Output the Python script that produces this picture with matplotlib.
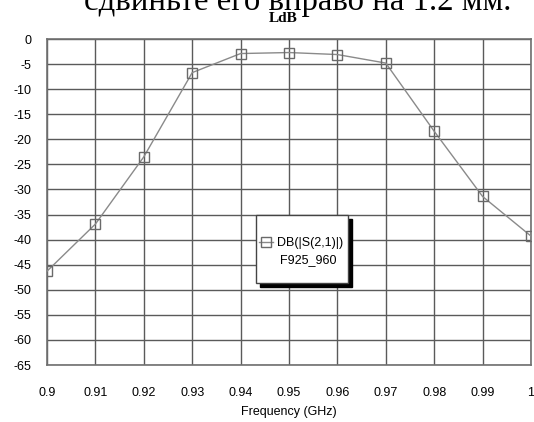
import matplotlib
matplotlib.use("Agg")
import matplotlib.pyplot as plt
from matplotlib.patches import Rectangle

plt.rcParams['axes.unicode_minus'] = False
plt.rcParams['font.family'] = ['Liberation Sans', 'DejaVu Sans']

freq = [0.90, 0.91, 0.92, 0.93, 0.94, 0.95, 0.96, 0.97, 0.98, 0.99, 1.00]
s21_db = [-46.3, -36.9, -23.5, -6.7, -2.9, -2.7, -3.1, -4.8, -18.4, -31.4, -39.3]
x_ticks = [0.90, 0.91, 0.92, 0.93, 0.94, 0.95, 0.96, 0.97, 0.98, 0.99, 1.00]
x_tick_labels = ["0.9", "0.91", "0.92", "0.93", "0.94", "0.95", "0.96", "0.97", "0.98", "0.99", "1"]
y_ticks = [0, -5, -10, -15, -20, -25, -30, -35, -40, -45, -50, -55, -60, -65]
series_label = "DB(|S(2,1)|)"
series_sub = "F925_960"
title = "LdB"
doc_text = "сдвиньте его вправо на 1.2 мм."

W, H = 534, 422
fig = plt.figure(figsize=(W / 100, H / 100), dpi=100)
L, R, T, B = 47, 531, 39, 365
ax = fig.add_axes([L / W, 1 - B / H, (R - L) / W, (B - T) / H])

grid_c = '#5a5a5a'
ax.plot(freq, s21_db, color='#8a8a8a', lw=1.0, marker='s', markersize=6.5,
        mfc='none', mec='#6a6a6a', mew=1.0, label=series_label, zorder=3)

ax.set_xlim(0.9, 1.0)
ax.set_ylim(-65, 0)
ax.set_xticks(x_ticks)
ax.set_xticklabels(x_tick_labels)
ax.set_yticks(y_ticks)
ax.set_yticklabels([str(v) for v in y_ticks])
ax.grid(True, color=grid_c, lw=1.0)
ax.set_axisbelow(True)
for s in ax.spines.values():
    s.set_color('#707070')
    s.set_linewidth(1.2)
ax.tick_params(axis='both', length=0, labelsize=9, colors='black')
ax.tick_params(axis='x', pad=16)
ax.tick_params(axis='y', pad=11)
ax.set_xlabel("Frequency (GHz)", fontsize=9, labelpad=5)

# title
fig.text(283 / W, 1 - 18 / H, title, ha='center', va='center',
         fontsize=11, fontweight='bold', family='Liberation Serif')
# partially cut document text at top
fig.text(298 / W, 1 - 10 / H, doc_text, ha='center', va='baseline',
         fontsize=23.6, family='Liberation Serif')

# legend box with shadow
bx0, bx1, by0, by1 = 256, 348, 215, 283
ax.add_patch(Rectangle(((bx0 + 4) / W, 1 - (by1 + 4) / H), (bx1 - bx0) / W,
                       (by1 - by0) / H, transform=fig.transFigure, clip_on=False,
                       facecolor='black', edgecolor='black', zorder=5))
ax.add_patch(Rectangle((bx0 / W, 1 - by1 / H), (bx1 - bx0) / W,
                       (by1 - by0) / H, transform=fig.transFigure, clip_on=False,
                       facecolor='white', edgecolor='#444444', lw=1.0, zorder=6))
leg = ax.legend(loc='center left', bbox_to_anchor=(259 / W, 1 - 243 / H),
                bbox_transform=fig.transFigure, frameon=False, fontsize=9,
                handlelength=1.1, handletextpad=0.3, borderpad=0, borderaxespad=0)
leg.set_zorder(7)
ax.text(308 / W, 1 - 260 / H, series_sub, ha='center', va='center', fontsize=9,
        transform=fig.transFigure, zorder=8)

fig.savefig("out.png", dpi=100)
